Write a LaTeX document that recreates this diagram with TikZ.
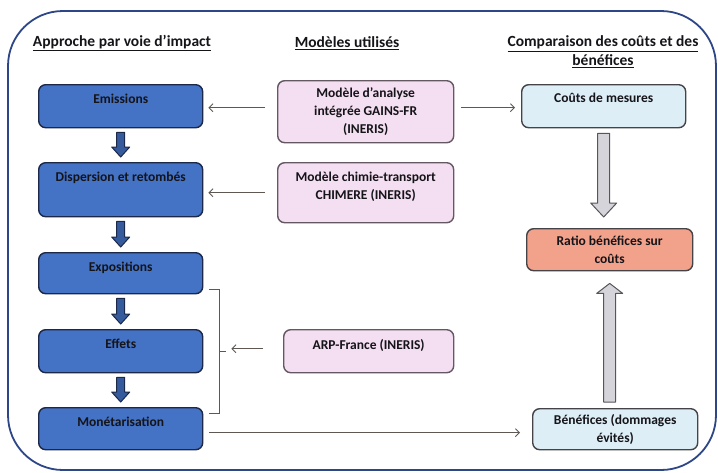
\documentclass[tikz,border=0pt]{standalone}
\usepackage{fontspec}
\setmainfont{Carlito}
\usetikzlibrary{arrows.meta,calc}
\definecolor{framecol}{RGB}{45,70,135}
\definecolor{blueF}{RGB}{68,114,196}
\definecolor{blueD}{RGB}{28,40,72}
\definecolor{pinkF}{RGB}{244,222,241}
\definecolor{pinkD}{RGB}{100,88,98}
\definecolor{lblueF}{RGB}{222,238,246}
\definecolor{salmonF}{RGB}{242,162,138}
\definecolor{greyF}{RGB}{212,212,218}
\definecolor{greyD}{RGB}{85,85,90}
\definecolor{lineC}{RGB}{95,88,82}
\definecolor{txt}{RGB}{20,20,25}
\tikzset{
  x=1pt, y=-1pt,
  boxbase/.style={draw, rounded corners=7pt, line width=1.4pt, font=\bfseries\fontsize{13.5}{18}\selectfont, text=txt, align=center, anchor=north west},
  bluebox/.style={boxbase, draw=blueD, fill=blueF, inner ysep=0pt},
  pinkbox/.style={boxbase, draw=pinkD, fill=pinkF},
  lbluebox/.style={boxbase, draw=greyD!80!black, fill=lblueF},
  salmonbox/.style={boxbase, draw=greyD!80!black, fill=salmonF},
  head/.style={font=\bfseries\fontsize{15.5}{19}\selectfont, text=txt, align=center, inner sep=0pt},
  thinarr/.style={draw=lineC, line width=0.9pt, -{Straight Barb[length=4pt,width=8pt]}},
  bracket/.style={draw=lineC, line width=0.9pt},
  bluearrow/.style={draw=blueD, fill=blueF!80!black, line width=1pt, line join=round},
  greyarrow/.style={draw=greyD, fill=greyF, line width=1pt, line join=round},
  frame/.style={draw=framecol, line width=1.8pt, rounded corners=55pt}
}
\begin{document}
\begin{tikzpicture}
\useasboundingbox (0,0) rectangle (718,472);
\draw[frame] (8,11) rectangle (716,470);

% headings
\node[head] (h1) at (122,43) {\underline{Approche par voie d’impact}};
\node[head] (h2) at (347,43) {\underline{Modèles utilisés}};
\node[head] (h3) at (603,52) {\underline{Comparaison des coûts et des}\\\underline{bénéfices}};

% left column
\node[bluebox, minimum width=164pt, text height=18.5pt, text depth=24.5pt] (em) at (38,84) {Emissions};
\node[bluebox, minimum width=164pt, text height=18.5pt, text depth=35.5pt] (di) at (38,162) {Dispersion et retombés};
\node[bluebox, minimum width=164pt, text height=18.5pt, text depth=22.5pt] (ex) at (38,252) {Expositions};
\node[bluebox, minimum width=164pt, text height=18.5pt, text depth=24.5pt] (ef) at (38,329) {Effets};
\node[bluebox, minimum width=164pt, text height=18.5pt, text depth=23.5pt] (mo) at (38,407) {Monétarisation};

% middle column
\node[pinkbox, minimum width=176pt, minimum height=62pt] (p1) at (277,80) {Modèle d’analyse\\intégrée GAINS-FR\\(INERIS)};
\node[pinkbox, minimum width=176pt, minimum height=60pt] (p2) at (277,162) {Modèle chimie-transport\\CHIMERE (INERIS)\\[-5pt]};
\node[pinkbox, minimum width=170pt, minimum height=43pt] (p3) at (283,329) {ARP-France (INERIS)\\[-4pt]};

% right column
\node[lbluebox, minimum width=164pt, inner ysep=0pt, text height=18pt, text depth=25pt] (co) at (521,84) {Coûts de mesures};
\node[salmonbox, minimum width=166pt, minimum height=42pt] (ra) at (526,228) {Ratio bénéfices sur\\coûts};
\node[lbluebox, minimum width=165pt, minimum height=41pt] (be) at (532,408) {Bénéfices (dommages\\évités)};

% blue block arrows
\foreach \a/\b in {em/di, di/ex, ex/ef, ef/mo}{
  \draw[bluearrow] let \p1=(\a.south), \p2=(\b.north) in
    (\x1-4pt,\y1-4pt) -- (\x1+4pt,\y1-4pt) -- (\x1+4pt,\y2+15pt) -- (\x1+9pt,\y2+15pt)
    -- (\x1,\y2+5pt) -- (\x1-9pt,\y2+15pt) -- (\x1-4pt,\y2+15pt) -- cycle;
}

% grey block arrows
\draw[greyarrow] let \p1=(co.south), \p2=(ra.north) in
  (\x1-6pt,\y1-5pt) -- (\x1+6pt,\y1-5pt) -- (\x1+6pt,\y2+25pt) -- (\x1+13pt,\y2+25pt)
  -- (\x1,\y2+11pt) -- (\x1-13pt,\y2+25pt) -- (\x1-6pt,\y2+25pt) -- cycle;
\draw[greyarrow] let \p1=(be.north), \p2=(ra.south) in
  (\x2-6pt,\y1+6pt) -- (\x2+6pt,\y1+6pt) -- (\x2+6pt,\y2-22pt) -- (\x2+13pt,\y2-22pt)
  -- (\x2,\y2-12pt) -- (\x2-13pt,\y2-22pt) -- (\x2-6pt,\y2-22pt) -- cycle;

% thin arrows
\draw[thinarr, shorten <=12pt, shorten >=5pt] ([yshift=4pt]p1.west) -- ([yshift=4pt]p1.west -| em.east);
\draw[thinarr, shorten <=7pt, shorten >=6pt] ([yshift=4pt]p1.east) -- ([yshift=4pt]p1.east -| co.west);
\draw[thinarr, shorten <=12pt, shorten >=5pt] (p2.west) -- (p2.west -| di.east);

% bracket
\coordinate (bt) at ([xshift=6pt,yshift=5pt]ex.south east);
\coordinate (bb) at ([xshift=6pt,yshift=-6pt]mo.north east);
\coordinate (bm) at ($(bt)!0.5!(bb)+(10pt,0)$);
\draw[bracket] (bt) -- ++(10pt,0) |- (bb);
\draw[bracket] (bm) -- ++(7pt,0) coordinate (btip);
\draw[thinarr, shorten <=20pt, shorten >=12pt] ([yshift=2.5pt]p3.west) -- ([yshift=2.5pt]p3.west -| bm);

% monetarisation -> benefices
\draw[thinarr, shorten <=6pt, shorten >=12pt] ([yshift=-4pt]mo.east) -- ([yshift=-4pt]mo.east -| be.west);
\end{tikzpicture}
\end{document}
